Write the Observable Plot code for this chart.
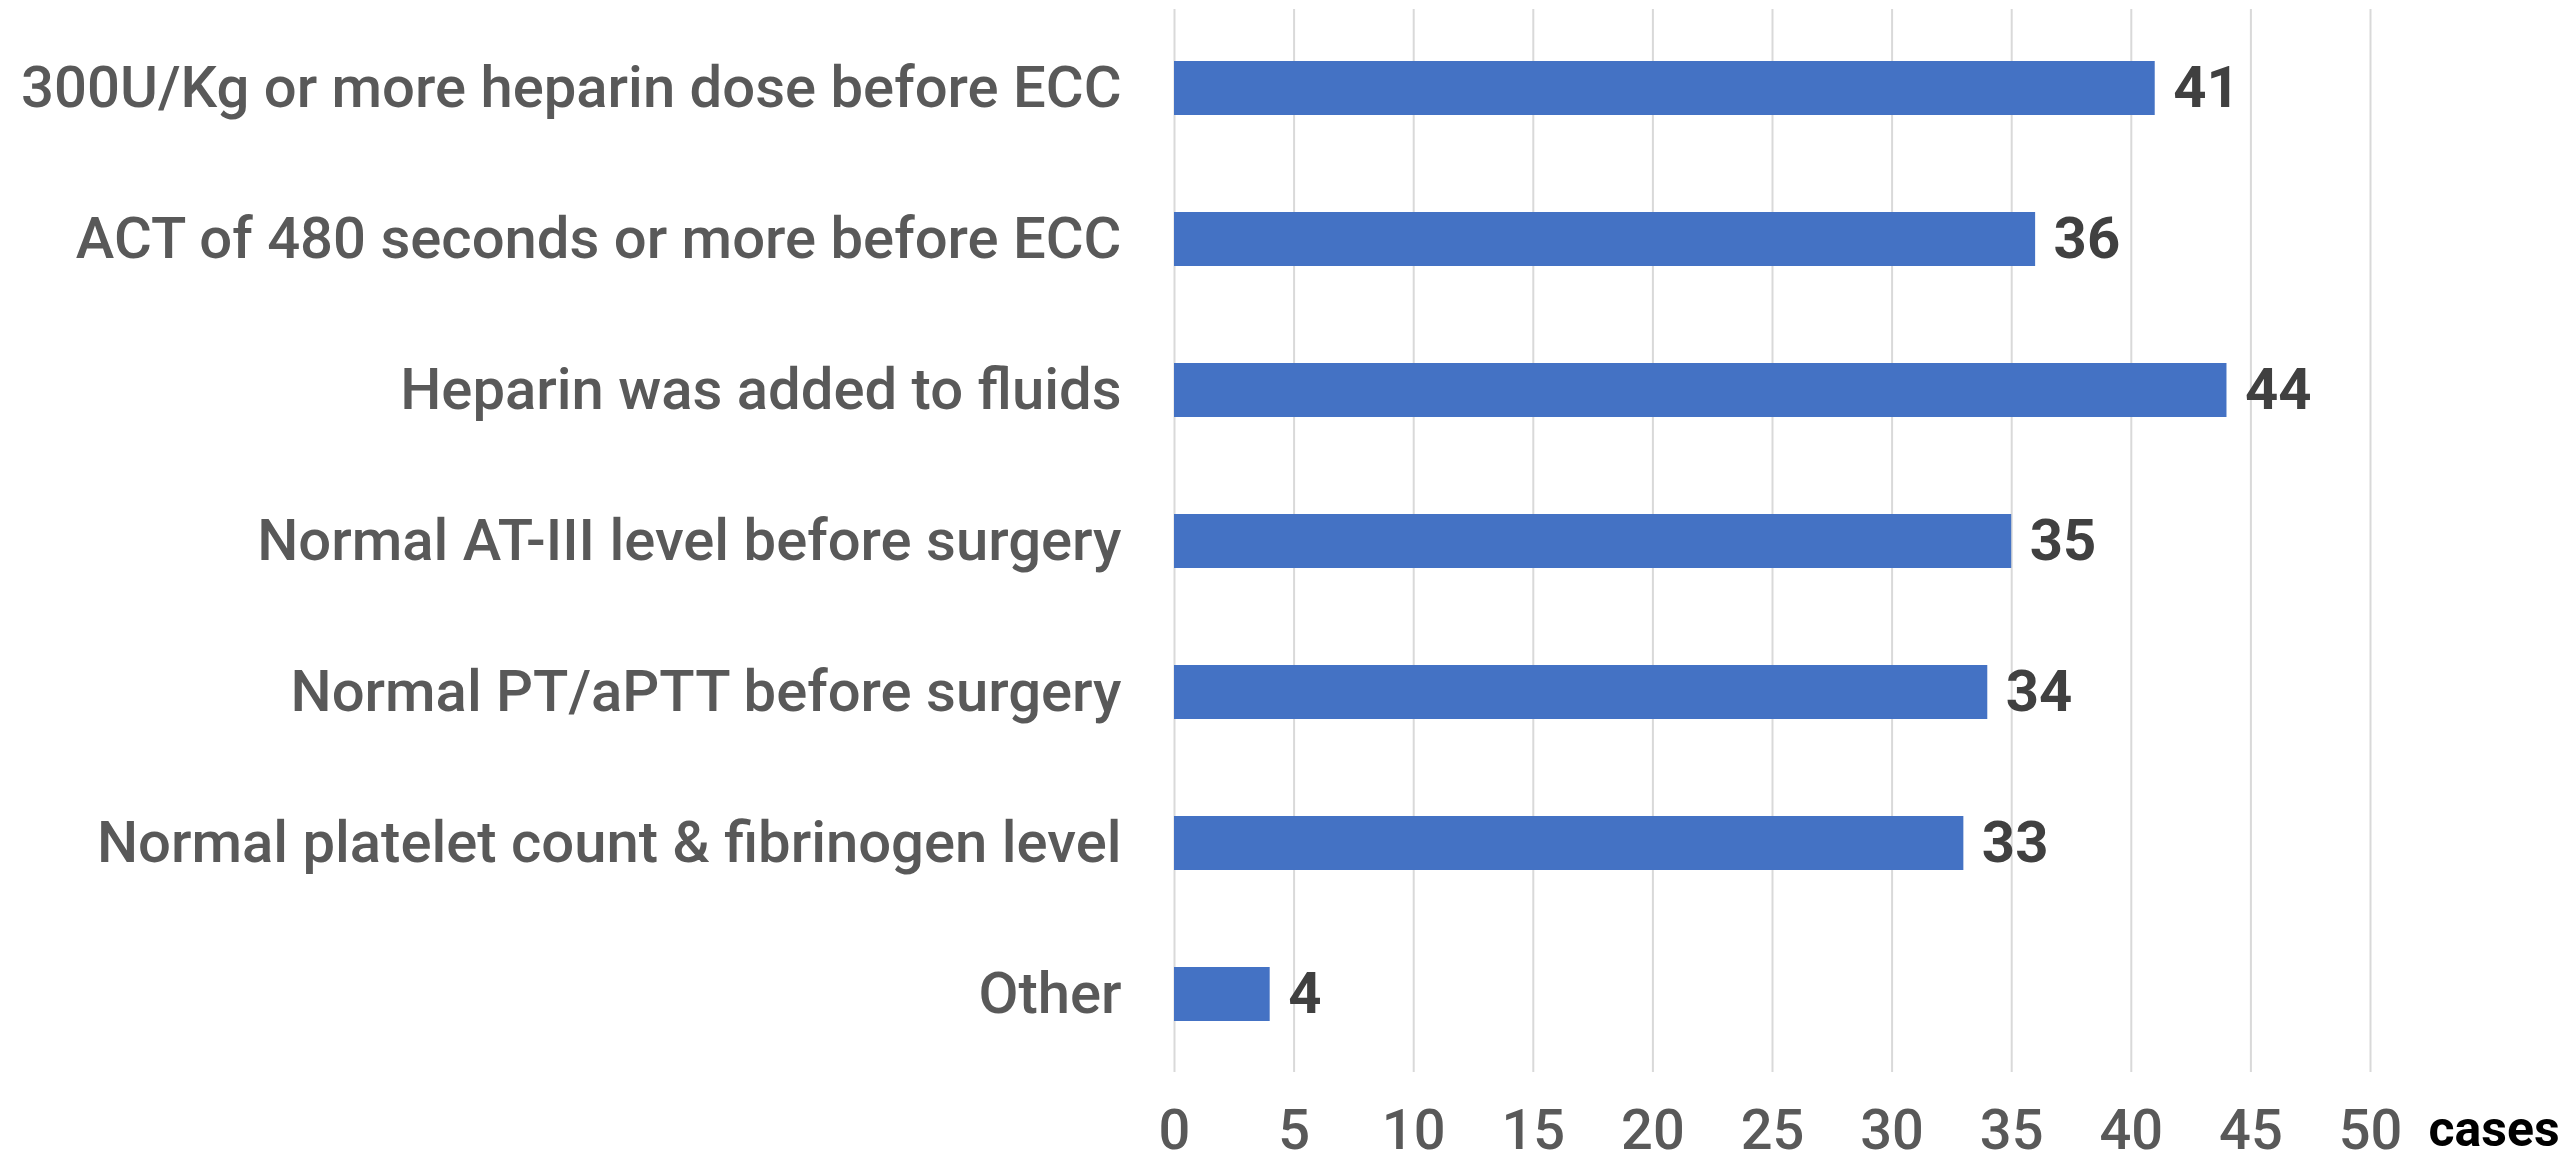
<!DOCTYPE html>
<html>
<head>
<meta charset="utf-8">
<script src="https://cdn.jsdelivr.net/npm/d3@7"></script>
<script src="https://cdn.jsdelivr.net/npm/@observablehq/plot@0.6"></script>
<style>
  html, body { margin: 0; padding: 0; background: #ffffff; }
  #chart { width: 2569px; height: 1166px; overflow: hidden; }
</style>
</head>
<body>
<div id="chart"></div>
<script>
const categories = [
  "300U/Kg or more heparin dose before ECC",
  "ACT of 480 seconds or more before ECC",
  "Heparin was added to fluids",
  "Normal AT-III level before surgery",
  "Normal PT/aPTT before surgery",
  "Normal platelet count & fibrinogen level",
  "Other"
];
const cases = [41, 36, 44, 35, 34, 33, 4];
const xTicks = [0, 5, 10, 15, 20, 25, 30, 35, 40, 45, 50];
const unitLabel = "cases";

const data = categories.map((c, i) => ({category: c, value: cases[i]}));
const FONT = "Roboto, 'Noto Sans', sans-serif";

const chart = Plot.plot({
  width: 2569,
  height: 1166,
  marginLeft: 1174,
  marginRight: 199,
  marginTop: 9,
  marginBottom: 94,
  style: {fontFamily: FONT, background: "#ffffff"},
  x: {domain: [0, 50], ticks: xTicks},
  y: {domain: categories, paddingInner: 0.645, paddingOuter: 0.3225},
  marks: [
    Plot.gridX(xTicks, {stroke: "#d9d9d9", strokeWidth: 2, strokeOpacity: 1}),
    Plot.barX(data, {x: "value", y: "category", fill: "#4472c4"}),
    Plot.text(data, {
      x: "value", y: "category", text: d => String(d.value),
      textAnchor: "start", dx: 18, fontSize: 58, fontWeight: "bold",
      fill: "#404040", lineAnchor: "middle"
    }),
    Plot.axisY({
      tickSize: 0, tickPadding: 53, fontSize: 58, fontWeight: 500,
      color: "#595959", label: null
    }),
    Plot.axisX({
      ticks: xTicks, tickSize: 0, tickPadding: 37, fontSize: 56,
      fontWeight: 500, color: "#595959", label: null
    }),
    Plot.text([unitLabel], {
      frameAnchor: "bottom-right", textAnchor: "start", lineAnchor: "top",
      dx: 58, dy: 38, fontSize: 50, fontWeight: "bold", fill: "#000000"
    })
  ]
});
document.getElementById("chart").appendChild(chart);
</script>
</body>
</html>
